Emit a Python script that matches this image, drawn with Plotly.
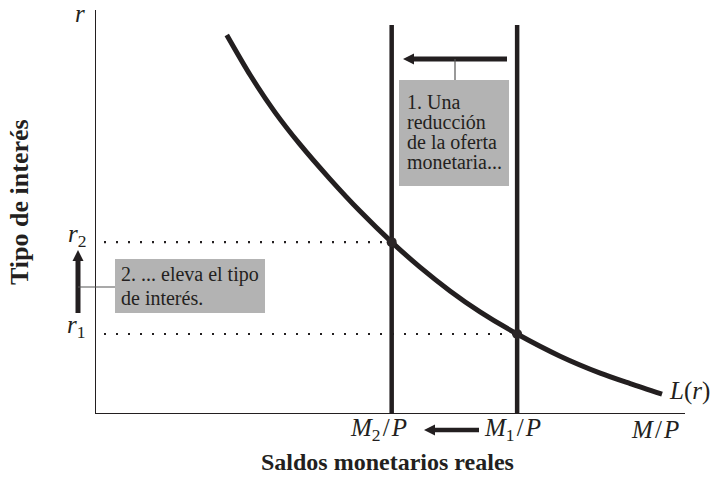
import plotly.graph_objects as go

# Money demand curve L(r): real balances (x) vs. interest rate (y)
curve_x = [2.22, 2.62, 3.04, 3.46, 3.97, 4.48, 5.02, 5.50, 6.01, 6.52,
           7.15, 7.88, 8.56, 9.07, 9.61]
curve_y = [9.38, 8.38, 7.46, 6.67, 5.81, 5.01, 4.24, 3.62, 3.03, 2.51,
           1.96, 1.41, 0.99, 0.73, 0.47]

# Money supply before (M1/P) and after (M2/P) the reduction, and equilibrium rates
m1_p = 7.15
m2_p = 5.02
supply_top = 9.63
r1 = 1.96
r2 = 4.24

box1_lines = ["1. Una", "reducción", "de la oferta", "monetaria..."]
box2_lines = ["2. ... eleva el tipo", "de interés."]

W, H = 715, 479
ML, MR, MT, MB = 96, 30, 10, 66
XR = [0, 10]
YR = [0, 10]

INK = "#231f20"
BOX = "#b3b3b3"
SERIF = "Liberation Serif"
THIN = "&#8202;"


def dx(p):
    """Horizontal pixel position -> x data units."""
    return (p - ML) / (W - ML - MR) * (XR[1] - XR[0]) + XR[0]


def dy(p):
    """Vertical pixel position -> y data units."""
    return (H - MB - p) / (H - MT - MB) * (YR[1] - YR[0]) + YR[0]


def px_(p):
    """Horizontal pixel position -> paper fraction."""
    return (p - ML) / (W - ML - MR)


def py_(p):
    """Vertical pixel position -> paper fraction."""
    return (H - MB - p) / (H - MT - MB)


fig = go.Figure()

# dotted guides from the r axis to each equilibrium
for m, r in [(m2_p, r2), (m1_p, r1)]:
    fig.add_trace(go.Scatter(
        x=[dx(104), m], y=[r, r], mode="lines",
        line=dict(color=INK, width=2.2, dash="2px,10px"),
        hoverinfo="skip", showlegend=False))

# vertical money supply lines
for m in [m2_p, m1_p]:
    fig.add_trace(go.Scatter(
        x=[m, m], y=[YR[0], supply_top], mode="lines",
        line=dict(color=INK, width=4.5),
        hoverinfo="skip", showlegend=False))

# demand curve
fig.add_trace(go.Scatter(
    x=curve_x, y=curve_y, mode="lines",
    line=dict(color=INK, width=5, shape="spline", smoothing=0.8),
    hoverinfo="skip", showlegend=False))

# equilibrium points
fig.add_trace(go.Scatter(
    x=[m2_p, m1_p], y=[r2, r1], mode="markers",
    marker=dict(color="#2b2627", size=10),
    cliponaxis=False, hoverinfo="skip", showlegend=False))

shapes = [
    dict(type="rect", xref="x", yref="y", x0=dx(399), x1=dx(509),
         y0=dy(186), y1=dy(80), fillcolor=BOX, line=dict(width=0), layer="above"),
    dict(type="rect", xref="x", yref="y", x0=dx(115), x1=dx(265),
         y0=dy(313), y1=dy(259), fillcolor=BOX, line=dict(width=0), layer="above"),
]


def seg(p0, p1, width, color):
    shapes.append(dict(type="line", xref="paper", yref="paper",
                       x0=px_(p0[0]), y0=py_(p0[1]), x1=px_(p1[0]), y1=py_(p1[1]),
                       line=dict(color=color, width=width), layer="above"))


def arrow(tip, tail, width=5, head_len=11, head_half=5.5):
    """Thick shaft with a filled triangular head, in pixel positions."""
    ux, uy = tip[0] - tail[0], tip[1] - tail[1]
    n = (ux * ux + uy * uy) ** 0.5
    ux, uy = ux / n, uy / n
    bx, by = tip[0] - ux * head_len, tip[1] - uy * head_len
    seg(tail, (bx + ux * 1.5, by + uy * 1.5), width, INK)
    pts = [tip, (bx - uy * head_half, by + ux * head_half),
           (bx + uy * head_half, by - ux * head_half)]
    path = "M " + " L ".join(f"{px_(x):.5f},{py_(y):.5f}" for x, y in pts) + " Z"
    shapes.append(dict(type="path", xref="paper", yref="paper", path=path,
                       fillcolor=INK, line=dict(width=0), layer="above"))


# shift of the supply curve
arrow((403, 59), (507, 59))
seg((455, 59), (455, 80), 1.2, "#555555")
# rise in the interest rate
arrow((78, 250), (78, 313))
seg((78, 287), (115, 287), 1.2, "#555555")
# shift along the horizontal axis
arrow((424, 430), (479, 430), width=4.5)

ann = []


def label(txt, x, y, size, anchor="center", angle=0):
    ann.append(dict(x=px_(x), y=py_(y), xref="paper", yref="paper", text=txt,
                    showarrow=False, xanchor=anchor, yanchor="middle",
                    textangle=angle,
                    font=dict(family=SERIF, size=size, color=INK)))


for i, line in enumerate(box1_lines):
    label(line, 405, 102 + 20 * i, 20, anchor="left")
for i, line in enumerate(box2_lines):
    label(line, 119, 274 + 24 * i, 20, anchor="left")

slash = THIN + "/" + THIN
math_labels = [
    ("<i>r</i>", 80, 14),
    ("<i>r</i><sub>2</sub>", 77, 236),
    ("<i>r</i><sub>1</sub>", 76, 326),
    ("<i>M</i><sub>2</sub>" + slash + "<i>P</i>", 378, 429),
    ("<i>M</i><sub>1</sub>" + slash + "<i>P</i>", 512, 429),
    ("<i>M</i>" + slash + "<i>P</i>", 655, 429),
]
for txt, x, y in math_labels:
    label(txt, x, y, 25)
label("<i>L</i>(<i>r</i>)", 667, 391, 25, anchor="left")

# axis titles
label("<b>Saldos monetarios reales</b>", 387, 462, 24)
label("<b>Tipo de interés</b>", 19, 202, 26, angle=-90)

axis_style = dict(showline=True, linecolor=INK, linewidth=1.3, mirror=False,
                  showgrid=False, zeroline=False, ticks="",
                  showticklabels=False, fixedrange=True)

fig.update_layout(
    width=W, height=H,
    margin=dict(l=ML, r=MR, t=MT, b=MB),
    paper_bgcolor="white", plot_bgcolor="white",
    xaxis=dict(range=XR, **axis_style),
    yaxis=dict(range=YR, **axis_style),
    shapes=shapes, annotations=ann, showlegend=False,
)

fig.write_html("out.html")
